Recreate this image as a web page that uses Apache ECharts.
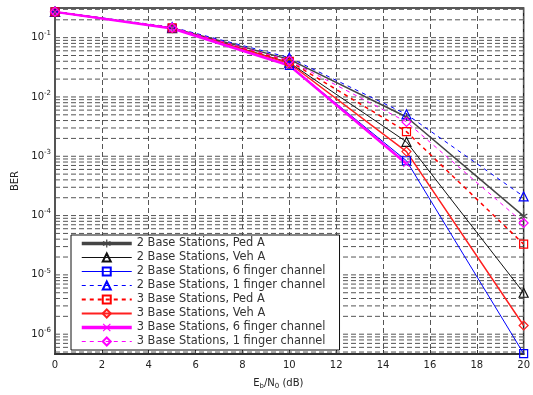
<!DOCTYPE html>
<html>
<head>
<meta charset="utf-8">
<script src="https://cdn.jsdelivr.net/npm/echarts@6/dist/echarts.min.js"></script>
<style>
  html, body { margin: 0; padding: 0; background: #fff; }
  #chart { width: 533px; height: 395px; }
</style>
</head>
<body>
<div id="chart"></div>
<script>
// SNR points (dB) at which BER was simulated
const snrDb = [0, 5, 10, 15, 20];

// BER per configuration
const ber2PedA   = [0.272, 0.146, 0.043, 4.6e-3, 9.8e-5];
const ber2VehA   = [0.272, 0.145, 0.038, 1.75e-3, 5.0e-6];
const ber2Six    = [0.272, 0.144, 0.034, 8.4e-4, 4.7e-7];
const ber2One    = [0.275, 0.150, 0.046, 5.1e-3, 2.1e-4];
const ber3PedA   = [0.272, 0.146, 0.040, 2.6e-3, 3.3e-5];
const ber3VehA   = [0.272, 0.144, 0.037, 1.2e-3, 1.4e-6];
const ber3Six    = [0.272, 0.143, 0.034, 7.5e-4];
const ber3One    = [0.274, 0.148, 0.041, 3.8e-3, 7.5e-5];

const seriesNames = [
  '2 Base Stations, Ped A',
  '2 Base Stations, Veh A',
  '2 Base Stations, 6 finger channel',
  '2 Base Stations, 1 finger channel',
  '3 Base Stations, Ped A',
  '3 Base Stations, Veh A',
  '3 Base Stations, 6 finger channel',
  '3 Base Stations, 1 finger channel'
];

// axis limits
const xTicks = [0, 2, 4, 6, 8, 10, 12, 14, 16, 18, 20];
const yMin = Math.pow(10, -6.334);
const yMax = Math.pow(10, -0.5);

const FONT = 'DejaVu Sans';
const STAR = 'path://M-0.7,-5 L0.7,-5 L0.7,5 L-0.7,5 Z M-4.7,-2 L-4,-3.2 L4.7,2 L4,3.2 Z M-4.7,2 L-4,3.2 L4.7,-2 L4,-3.2 Z';
const CROSS = 'path://M-5,-4 L-4,-5 L5,4 L4,5 Z M-5,4 L-4,5 L5,-4 L4,-5 Z';

function pairs(vals) {
  return vals.map((v, i) => [snrDb[i], v]);
}

function curve(name, vals, color, width, type, symbol, size, filled) {
  return {
    name: name,
    type: 'line',
    data: pairs(vals),
    z: 3,
    symbol: symbol,
    symbolSize: size,
    showAllSymbol: true,
    animation: false,
    lineStyle: { color: color, width: width, type: type },
    itemStyle: filled
      ? { color: color, borderWidth: 0 }
      : { color: 'rgba(255,255,255,0)', borderColor: color, borderWidth: 1.2 },
    emphasis: { disabled: true }
  };
}

const gridStyle = { color: '#555', width: 1, type: [5, 3] };

// log-scale grid lines: every m * 10^k inside the axis range, one dashed line each
const gridSeries = [];
for (let k = -7; k <= 0; k++) {
  for (let m = 1; m <= 9; m++) {
    const v = m * Math.pow(10, k);
    if (v > yMin && v < yMax) {
      gridSeries.push({
        name: 'grid' + k + '_' + m,
        type: 'line',
        data: [[0, v], [20, v]],
        z: 1,
        silent: true,
        symbol: 'none',
        animation: false,
        lineStyle: gridStyle,
        emphasis: { disabled: true }
      });
    }
  }
}

// legend sample line widths
const legendWidths = [3.5, 1, 1, 1, 2, 2, 3.5, 1.2];

const option = {
  backgroundColor: '#fff',
  animation: false,
  grid: {
    left: 55, right: 8, top: 8, bottom: 38,
    show: true, borderColor: '#222', borderWidth: 1.5,
    containLabel: false
  },
  xAxis: {
    type: 'value',
    min: 0, max: 20, interval: 2,
    name: 'E{sub|b}/N{sub|0} (dB)',
    nameLocation: 'middle',
    nameGap: 23,
    nameTextStyle: {
      fontFamily: FONT, fontSize: 10, color: '#222',
      padding: [0, 22, 0, 0],
      rich: { sub: { fontFamily: FONT, fontSize: 7, color: '#222', padding: [6, 0, 0, 0] } }
    },
    axisLine: { show: true, lineStyle: { color: '#333', width: 2 } },
    axisTick: { show: true, inside: true, length: 4, lineStyle: { color: '#333' } },
    axisLabel: {
      fontFamily: FONT, fontSize: 10, color: '#222', margin: 6,
      formatter: v => (xTicks.indexOf(v) >= 0 ? String(v) : '')
    },
    splitLine: { show: true, lineStyle: gridStyle }
  },
  yAxis: {
    type: 'log',
    logBase: 10,
    min: yMin, max: yMax,
    name: 'BER',
    nameLocation: 'middle',
    nameGap: 33,
    nameTextStyle: { fontFamily: FONT, fontSize: 10, color: '#222' },
    axisLine: { show: true, lineStyle: { color: '#555', width: 2 } },
    axisTick: { show: false },
    splitLine: { show: false },
    axisLabel: {
      fontFamily: FONT, fontSize: 10, color: '#222', margin: 4,
      formatter: function (v) {
        const e = Math.log10(v);
        const r = Math.round(e);
        if (Math.abs(e - r) > 1e-6) return '';
        return '10{sup|' + r + '}';
      },
      rich: { sup: { fontFamily: FONT, fontSize: 7, color: '#222', padding: [0, 0, 8, 0] } }
    }
  },
  legend: {
    data: seriesNames.map((n, i) => ({ name: n, lineStyle: { width: legendWidths[i] } })),
    orient: 'vertical',
    left: 71, top: 235,
    itemWidth: 50, itemHeight: 10, itemGap: 3,
    padding: [3, 14, 3, 9],
    backgroundColor: '#fff',
    borderColor: '#111', borderWidth: 1,
    selectedMode: false,
    textStyle: { fontFamily: FONT, fontSize: 11.4, color: '#333' }
  },
  series: gridSeries.concat([
    curve(seriesNames[0], ber2PedA, '#444', 1.5, 'solid', STAR, 8, true),
    curve(seriesNames[1], ber2VehA, '#111', 1, 'solid', 'triangle', 9, false),
    curve(seriesNames[2], ber2Six, '#0000ff', 1, 'solid', 'rect', 8, false),
    curve(seriesNames[3], ber2One, '#0000ff', 1, [4, 4], 'triangle', 9, false),
    curve(seriesNames[4], ber3PedA, '#ff0000', 1.5, [4, 4], 'rect', 8, false),
    curve(seriesNames[5], ber3VehA, '#ff2020', 1.5, 'solid', 'diamond', 9, false),
    curve(seriesNames[6], ber3Six, '#ff00ff', 2.5, 'solid', CROSS, 7, true),
    curve(seriesNames[7], ber3One, '#ff00ff', 1, [4, 4], 'diamond', 9, false)
  ])
};

const chart = echarts.init(document.getElementById('chart'), null, { renderer: 'canvas' });
chart.setOption(option);
</script>
</body>
</html>
